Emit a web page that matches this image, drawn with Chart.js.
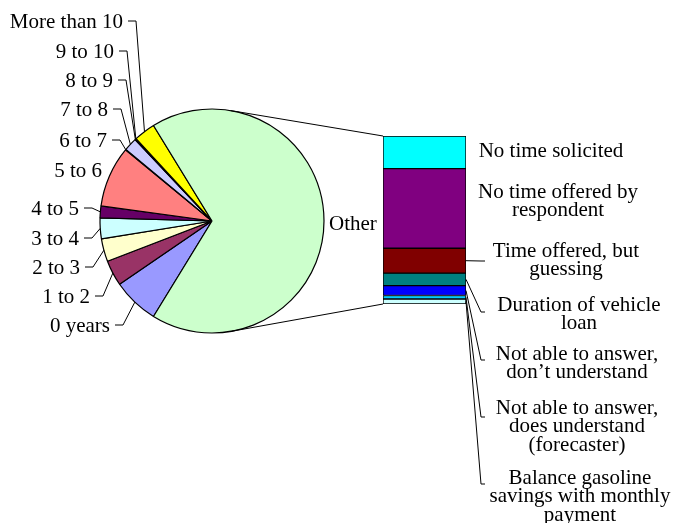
<!DOCTYPE html>
<html>
<head>
<meta charset="utf-8">
<script src="https://cdn.jsdelivr.net/npm/chart.js@4.4.1/dist/chart.umd.min.js"></script>
<style>
  body { margin: 0; background: #fff; }
  #wrap { position: relative; width: 674px; height: 523px; }
  #wrap canvas { position: absolute; left: 0; top: 0; }
</style>
</head>
<body>
<div id="wrap">
  <canvas id="chartPie" width="674" height="523"></canvas>
  <canvas id="chartBar" width="674" height="523"></canvas>
</div>
<script>
// years categories in the pie (percent of respondents)
const pieLabels = ['0 years', '1 to 2', '2 to 3', '3 to 4', '4 to 5', '5 to 6',
    '6 to 7', '7 to 8', '8 to 9', '9 to 10', 'More than 10']
const pieValues = [6.7, 3.7, 3.3, 3.0, 1.7, 8.8, 0.1, 1.9, 0.1, 0.1, 3.1]

// the "Other" slice, broken out in the bar
const otherName = 'Other'
const otherLabels = [
    ['No time solicited'],
    ['No time offered by', 'respondent'],
    ['Time offered, but', 'guessing'],
    ['Duration of vehicle', 'loan'],
    ['Not able to answer,', 'don\u2019t understand'],
    ['Not able to answer,', 'does understand', '(forecaster)'],
    ['Balance gasoline', 'savings with monthly', 'payment']
]
const otherValues = [13.1, 32.0, 10.0, 5.0, 4.0, 1.4, 2.0]

const pieColors = ['#9999FF', '#993366', '#FFFFCC', '#CCFFFF', '#660066', '#FF8080',
    '#0066CC', '#CCCCFF', '#000080', '#FF00FF', '#FFFF00']
const otherColors = ['#00FFFF', '#800080', '#800000', '#008080', '#0000FF', '#00CCFF', '#CCFFFF']
const otherSliceColor = '#CCFFCC'

// label placement: [text right x, text middle y], leader on/off
const pieLabelPos = [[110, 326], [90, 297], [80, 268], [79, 239], [79, 209], [102, 171],
    [107, 141], [108, 110], [113, 81], [114, 52], [123, 22]]
const pieLeader = [true, true, true, true, true, false, true, true, true, true, true]
// [center x, first line y, leader end y or null]
const otherLabelPos = [[551, 151, null], [558, 192, null], [566, 251, 261], [579, 305, 312],
    [577, 354, 360], [577, 408, 417], [580, 478, 484]]

const FONT = '21px "Liberation Serif", "Times New Roman", serif'
const LINE_H = 18.7

const sumPie = pieValues.reduce((a, b) => a + b, 0)
const otherTotal = otherValues.reduce((a, b) => a + b, 0)
const total = sumPie + otherTotal
// Other slice centred on the right, facing the bar
const rotation = 90 - 360 * (sumPie + otherTotal / 2) / total

const pieLabelPlugin = {
    id: 'pieLabels',
    afterDraw(chart) {
        const ctx = chart.ctx
        const arcs = chart.getDatasetMeta(0).data
        ctx.save()
        ctx.font = FONT
        ctx.fillStyle = '#000'
        ctx.strokeStyle = '#000'
        ctx.lineWidth = 1
        ctx.textBaseline = 'middle'
        pieLabels.forEach((label, i) => {
            const arc = arcs[i]
            const mid = (arc.startAngle + arc.endAngle) / 2
            const px = arc.x + Math.cos(mid) * arc.outerRadius
            const py = arc.y + Math.sin(mid) * arc.outerRadius
            const [tx, ty] = pieLabelPos[i]
            ctx.textAlign = 'right'
            ctx.fillText(label, tx, ty)
            if (pieLeader[i]) {
                ctx.beginPath()
                ctx.moveTo(tx + 5, ty - 1)
                ctx.lineTo(tx + 13, ty - 1)
                ctx.lineTo(px, py)
                ctx.stroke()
            }
        })
        const o = arcs[pieLabels.length]
        const om = (o.startAngle + o.endAngle) / 2
        ctx.textAlign = 'left'
        ctx.fillText(otherName, o.x + Math.cos(om) * (o.outerRadius + 5), o.y + Math.sin(om) * o.outerRadius + 3)
        ctx.restore()
    }
}

let chartPie = new Chart(document.getElementById('chartPie'), {
    type: 'pie',
    data: {
        labels: [...pieLabels, otherName],
        datasets: [{
            data: [...pieValues, otherTotal],
            backgroundColor: [...pieColors, otherSliceColor],
            borderColor: '#000',
            borderWidth: 1.2
        }]
    },
    options: {
        responsive: false,
        animation: false,
        radius: 112,
        rotation: rotation,
        layout: { padding: { left: 100, right: 350, top: 109, bottom: 190 } },
        plugins: { legend: { display: false }, tooltip: { enabled: false } }
    },
    plugins: [pieLabelPlugin]
})

const tangentPoint = (cx, cy, r, px, py, sign) => {
    const dx = px - cx
    const dy = py - cy
    const d = Math.hypot(dx, dy)
    const a = Math.atan2(dy, dx) + sign * Math.acos(r / d)
    return [cx + r * Math.cos(a), cy + r * Math.sin(a)]
}

const barLabelPlugin = {
    id: 'barLabels',
    afterDraw(chart) {
        const ctx = chart.ctx
        const yScale = chart.scales.y
        const el = chart.getDatasetMeta(0).data[0]
        const left = el.x - el.width / 2
        const right = el.x + el.width / 2
        const top = yScale.getPixelForValue(0)
        const bottom = yScale.getPixelForValue(otherTotal)

        ctx.save()
        ctx.strokeStyle = '#000'
        ctx.fillStyle = '#000'
        ctx.lineWidth = 1

        // connectors from the pie to the bar
        const o = chartPie.getDatasetMeta(0).data[pieLabels.length]
        const t1 = tangentPoint(o.x, o.y, o.outerRadius, left, top, -1)
        const t2 = tangentPoint(o.x, o.y, o.outerRadius, left, bottom, 1)
        ctx.beginPath()
        ctx.moveTo(t1[0], t1[1])
        ctx.lineTo(left, top)
        ctx.moveTo(t2[0], t2[1])
        ctx.lineTo(left, bottom)
        ctx.stroke()

        ctx.font = FONT
        ctx.textAlign = 'center'
        ctx.textBaseline = 'middle'
        let acc = 0
        otherLabels.forEach((lines, i) => {
            const segMid = yScale.getPixelForValue(acc + otherValues[i] / 2)
            acc += otherValues[i]
            const [cx, y0, ly] = otherLabelPos[i]
            lines.forEach((line, j) => ctx.fillText(line, cx, y0 + j * LINE_H))
            if (ly !== null) {
                ctx.beginPath()
                ctx.moveTo(right, segMid)
                ctx.lineTo(481, ly)
                ctx.lineTo(485, ly)
                ctx.stroke()
            }
        })
        ctx.restore()
    }
}

const chartBar = new Chart(document.getElementById('chartBar'), {
    type: 'bar',
    data: {
        labels: [otherName],
        datasets: otherLabels.map((lines, i) => ({
            label: lines.join(' '),
            data: [otherValues[i]],
            backgroundColor: otherColors[i],
            borderColor: '#000',
            borderWidth: 1,
            borderSkipped: false,
            barPercentage: 1,
            categoryPercentage: 1
        }))
    },
    options: {
        responsive: false,
        animation: false,
        layout: { padding: { left: 383, right: 208, top: 136, bottom: 219 } },
        scales: {
            x: { display: false, stacked: true },
            y: { display: false, stacked: true, reverse: true, min: 0, max: otherTotal }
        },
        plugins: { legend: { display: false }, tooltip: { enabled: false } }
    },
    plugins: [barLabelPlugin]
})
</script>
</body>
</html>
